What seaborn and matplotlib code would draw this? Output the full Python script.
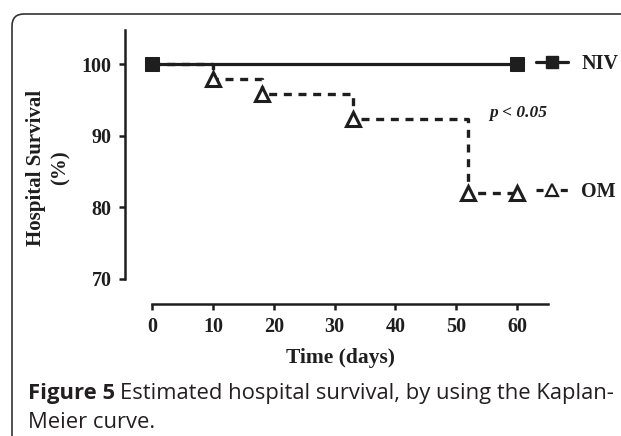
import pandas as pd
import matplotlib.pyplot as plt
import seaborn as sns
from matplotlib.lines import Line2D
from matplotlib.patches import FancyBboxPatch

# Kaplan-Meier estimates
niv_days = [0, 60]
niv_survival = [100, 100]
om_days = [0, 10, 18, 33, 52, 60]
om_survival = [100, 98.0, 95.9, 92.3, 82.0, 82.0]

x_ticks = [0, 10, 20, 30, 40, 50, 60]
y_ticks = [70, 80, 90, 100]

niv = pd.DataFrame({'Time': niv_days, 'Survival': niv_survival})
om = pd.DataFrame({'Time': om_days, 'Survival': om_survival})

sns.set_style('white')
plt.rcParams['font.family'] = ['Liberation Serif', 'DejaVu Serif']
ink = '#1e1e1e'

fig = plt.figure(figsize=(6.21, 4.36), dpi=100)
ax = fig.add_axes([125 / 621, 1 - 304 / 436, (548 - 125) / 621, (304 - 30) / 436])

# OM - dashed step curve with open triangles
sns.lineplot(x='Time', y='Survival', data=om, ax=ax, color=ink, lw=2.4,
             drawstyle='steps-post', estimator=None, sort=False,
             linestyle='--', marker='^', markersize=10, markerfacecolor='white',
             markeredgecolor=ink, markeredgewidth=2.2, markevery=[1, 2, 3, 4, 5])
ax.lines[-1].set_dashes((2.4, 2.0))

# NIV - solid line with filled squares
sns.lineplot(x='Time', y='Survival', data=niv, ax=ax, color=ink, lw=2.3,
             estimator=None, sort=False, marker='s', markersize=10.5,
             markeredgecolor=ink)

ax.set_xlim(-4.45, 65.1)
ax.set_ylim(66.5, 104.8)
ax.set_xticks(x_ticks)
ax.set_yticks(y_ticks)
ax.spines['top'].set_visible(False)
ax.spines['right'].set_visible(False)
ax.spines['left'].set_bounds(70, 104.8)
ax.spines['bottom'].set_bounds(0, 65.1)
for s in ['left', 'bottom']:
    ax.spines[s].set_linewidth(1.8)
    ax.spines[s].set_color(ink)
ax.tick_params(axis='both', direction='out', length=4.5, width=1.8, color=ink,
               labelsize=14.5, labelcolor=ink, pad=5, bottom=True, left=True)
for lbl in ax.get_xticklabels() + ax.get_yticklabels():
    lbl.set_fontweight('bold')

ax.set_xlabel('Time (days)', fontsize=15.5, fontweight='bold', color=ink)
ax.xaxis.set_label_coords((340 - 125) / 423, (304 - 358) / 274)
ax.xaxis.label.set_va('center')
ax.set_ylabel('Hospital Survival\n(%)', fontsize=15, fontweight='bold', color=ink,
              linespacing=1.3)
ax.yaxis.set_label_coords((48.5 - 125) / 423, (304 - 168) / 274)
ax.yaxis.label.set_va('center')

ax.text(55.4, 93.2, 'p < 0.05', fontsize=12.5, fontstyle='italic', fontweight='bold',
        color=ink, va='center', ha='left')

# Legend entries placed next to the end of each curve
niv_handle = Line2D([], [], color=ink, lw=2.3, marker='s', markersize=8)
om_handle = Line2D([], [], color=ink, lw=2.3, linestyle=(0, (2.2, 1.6)), marker='^',
                   markersize=8.5, markerfacecolor='white', markeredgewidth=1.6)
leg1 = fig.legend([niv_handle], ['NIV'], loc='center left',
                  bbox_to_anchor=(536 / 621, 1 - 64 / 436), frameon=False,
                  borderpad=0, borderaxespad=0, handlelength=1.6, handletextpad=0.65,
                  prop={'size': 14.5, 'weight': 'bold'})
leg2 = fig.legend([om_handle], ['OM'], loc='center left',
                  bbox_to_anchor=(536 / 621, 1 - 192 / 436), frameon=False,
                  borderpad=0, borderaxespad=0, handlelength=1.6, handletextpad=0.65,
                  prop={'size': 14.5, 'weight': 'bold'})
for leg in (leg1, leg2):
    for t in leg.get_texts():
        t.set_color(ink)

# Journal frame and caption
frame = FancyBboxPatch((0.12, -1.0), 8.0, 4.22 + 1.0,
                       boxstyle='round,pad=0,rounding_size=0.12',
                       transform=fig.dpi_scale_trans, fill=False,
                       edgecolor='#333333', lw=1.2, clip_on=False)
fig.patches.append(frame)

cap_font = ['Open Sans', 'DejaVu Sans']
cap_size = 15.8
bold_part = fig.text(28 / 621, 1 - 393 / 436, 'Figure 5', fontsize=cap_size,
                     fontweight='bold', family=cap_font, color='#231f20', va='center')
fig.canvas.draw()
bb = bold_part.get_window_extent(fig.canvas.get_renderer())
fig.text(bb.x1 / fig.bbox.width + 5 / 621, 1 - 393 / 436,
         'Estimated hospital survival, by using the Kaplan-', fontsize=cap_size,
         family=cap_font, color='#231f20', va='center')
fig.text(28 / 621, 1 - 422 / 436, 'Meier curve.', fontsize=cap_size,
         family=cap_font, color='#231f20', va='center')

fig.savefig('out.png', dpi=100)
